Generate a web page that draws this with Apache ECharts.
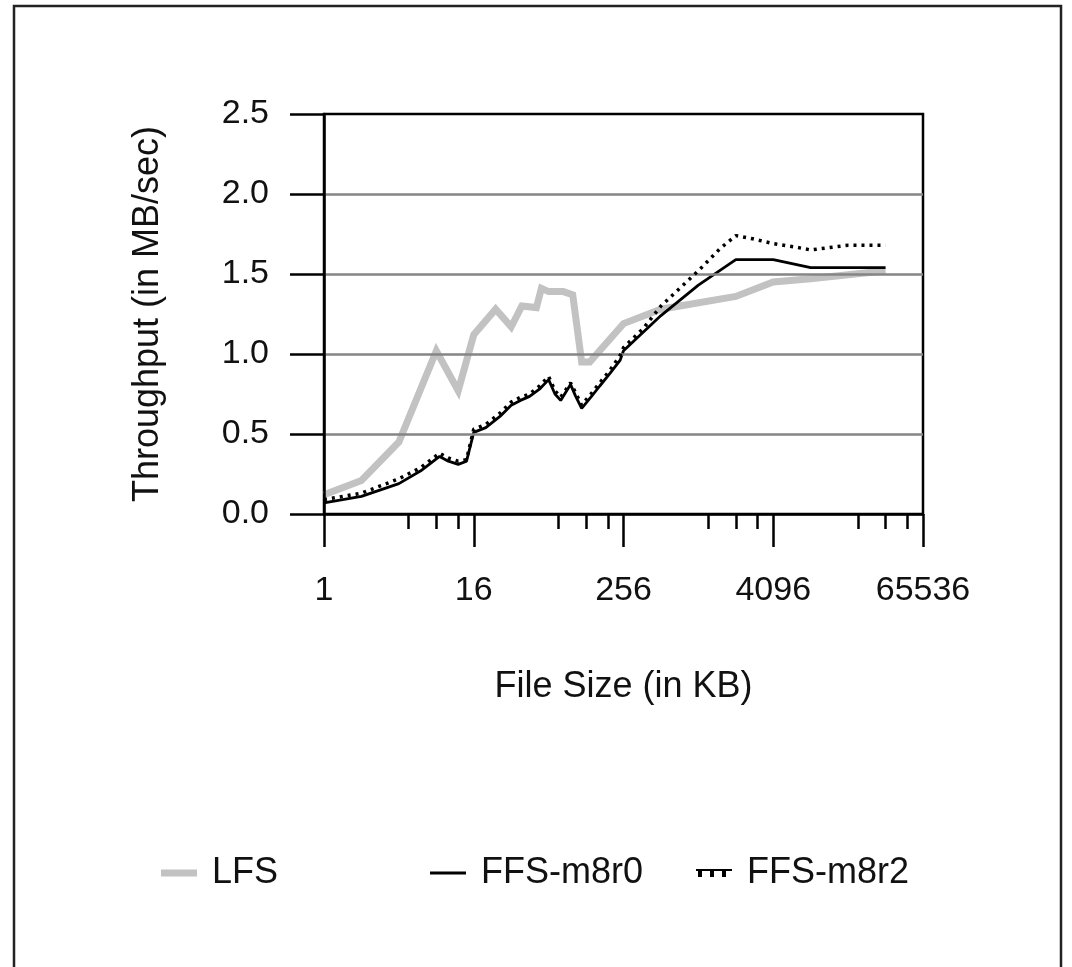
<!DOCTYPE html>
<html>
<head>
<meta charset="utf-8">
<script src="https://cdn.jsdelivr.net/npm/echarts@6/dist/echarts.min.js"></script>
<style>
html,body{margin:0;padding:0;background:#fff;}
#chart{width:1072px;height:967px;}
</style>
</head>
<body>
<div id="chart"></div>
<script>
// ---- data (file size in KB, throughput in MB/sec) ----
var xTickValues = [1, 16, 256, 4096, 65536];
var xMinorTickValues = [4.8, 8, 12, 77, 128, 192, 1229, 2048, 3072, 19661, 32768, 49152];
var yTickValues = [0, 0.5, 1.0, 1.5, 2.0, 2.5];

var lfsSize = [1, 2, 4, 8, 12, 16, 24, 32, 39, 51, 56, 64, 84, 100, 118, 137, 256, 512, 2048, 4096, 8192, 32768];
var lfsThroughput = [0.12, 0.21, 0.45, 1.02, 0.77, 1.12, 1.28, 1.17, 1.30, 1.29, 1.41, 1.39, 1.39, 1.37, 0.95, 0.95, 1.19, 1.28, 1.36, 1.45, 1.47, 1.52];

var m8r0Size = [1, 2, 4, 6, 8.5, 10, 12, 14, 16, 20, 26, 32, 38, 45, 54, 64, 72, 80, 96, 105, 118, 140, 165, 200, 240, 256, 512, 1024, 2048, 4096, 8192, 32768];
var m8r0Throughput = [0.07, 0.11, 0.19, 0.27, 0.36, 0.33, 0.31, 0.33, 0.51, 0.54, 0.61, 0.68, 0.71, 0.735, 0.78, 0.84, 0.75, 0.71, 0.81, 0.74, 0.66, 0.73, 0.80, 0.88, 0.96, 1.02, 1.24, 1.43, 1.59, 1.59, 1.54, 1.54];

var m8r2Size = [1, 2, 4, 6, 8.5, 10, 12, 14, 16, 20, 26, 32, 38, 45, 54, 64, 72, 80, 96, 105, 118, 140, 165, 200, 240, 256, 370, 512, 1024, 1536, 2048, 2800, 4096, 6000, 8192, 16384, 32768];
var m8r2Throughput = [0.09, 0.13, 0.22, 0.29, 0.38, 0.35, 0.33, 0.34, 0.53, 0.56, 0.63, 0.70, 0.73, 0.75, 0.80, 0.86, 0.77, 0.73, 0.82, 0.76, 0.68, 0.75, 0.82, 0.90, 0.99, 1.04, 1.16, 1.30, 1.52, 1.66, 1.74, 1.72, 1.69, 1.67, 1.65, 1.68, 1.68];

function pairs(xs, ys) { return xs.map(function (x, i) { return [x, ys[i]]; }); }

var FONT = '"Liberation Sans", Arial, Helvetica, sans-serif';
var chart = echarts.init(document.getElementById('chart'), null, {renderer: 'canvas'});

var legendText = {fontSize: 36, fontFamily: FONT, color: '#111', padding: [0, 0, 0, 10]};
var dottedIcon = 'path://M0,0H36V2H0Z M2,0H6V8H2Z M14,0H18V8H14Z M26,0H30V8H26Z';

var option = {
  backgroundColor: '#ffffff',
  animation: false,
  textStyle: {fontFamily: FONT, color: '#111'},
  graphic: [{
    type: 'rect', silent: true, z: 100,
    shape: {x: 14, y: 6, width: 1047, height: 1000},
    style: {fill: 'none', stroke: '#222', lineWidth: 2.5}
  }],
  grid: {
    left: 324, right: 149, top: 114, bottom: 453,
    show: true, borderColor: '#000', borderWidth: 2.5, backgroundColor: 'transparent'
  },
  legend: [
    {data: [{name: 'LFS', icon: 'rect', itemStyle: {color: '#c2c2c2', borderWidth: 0}}],
     left: 156, top: 850, itemWidth: 36, itemHeight: 7, textStyle: legendText},
    {data: [{name: 'FFS-m8r0', icon: 'rect', itemStyle: {color: '#000', borderWidth: 0}}],
     left: 425, top: 850, itemWidth: 36, itemHeight: 3, textStyle: legendText},
    {data: [{name: 'FFS-m8r2', icon: dottedIcon, itemStyle: {color: '#000', borderWidth: 0}}],
     left: 691, top: 850, itemWidth: 36, itemHeight: 8, symbolKeepAspect: false, textStyle: legendText}
  ],
  xAxis: [
    {
      type: 'log', logBase: 16, min: 1, max: 65536, position: 'bottom', z: 5,
      name: 'File Size (in KB)', nameLocation: 'middle', nameGap: 155,
      nameTextStyle: {fontSize: 36, fontFamily: FONT, color: '#111'},
      axisLine: {show: true, lineStyle: {color: '#000', width: 2.5}},
      axisTick: {show: true, length: 33, customValues: xTickValues, lineStyle: {color: '#000', width: 2.5}},
      axisLabel: {show: true, customValues: xTickValues, fontSize: 34, margin: 60, color: '#111', fontFamily: FONT,
        formatter: function (v) { return String(Math.round(v)); }},
      splitLine: {show: false}, minorTick: {show: false}
    },
    {
      type: 'log', logBase: 16, min: 1, max: 65536, position: 'bottom', z: 5,
      axisLine: {show: false},
      axisTick: {show: true, length: 15, customValues: xMinorTickValues, lineStyle: {color: '#000', width: 2.5}},
      axisLabel: {show: false},
      splitLine: {show: false}
    }
  ],
  yAxis: [
    {
      type: 'value', min: 0, max: 2.5, interval: 0.5, position: 'left', z: 4,
      name: 'Throughput (in MB/sec)', nameLocation: 'middle', nameGap: 158, nameRotate: 90,
      nameTextStyle: {fontSize: 36, fontFamily: FONT, color: '#111'},
      axisLine: {show: true, lineStyle: {color: '#000', width: 2.5}},
      axisTick: {show: true, length: 34, lineStyle: {color: '#000', width: 2.5}},
      axisLabel: {fontSize: 34, margin: 55, color: '#111', fontFamily: FONT, padding: [10, 0, 0, 0],
        formatter: function (v) { return v.toFixed(1); }},
      splitLine: {show: true, showMinLine: false, showMaxLine: false, lineStyle: {color: '#858585', width: 2.5}}
    }
  ],
  series: [
    {
      name: 'LFS', type: 'line', xAxisIndex: 0, yAxisIndex: 0, z: 2,
      data: pairs(lfsSize, lfsThroughput), showSymbol: false, symbol: 'none',
      lineStyle: {color: '#c2c2c2', width: 7, cap: 'butt', join: 'miter'},
      itemStyle: {color: '#c2c2c2'}
    },
    {
      name: 'FFS-m8r0', type: 'line', xAxisIndex: 0, yAxisIndex: 0, z: 3,
      data: pairs(m8r0Size, m8r0Throughput), showSymbol: false, symbol: 'none',
      lineStyle: {color: '#000', width: 2.8},
      itemStyle: {color: '#000'}
    },
    {
      name: 'FFS-m8r2', type: 'line', xAxisIndex: 0, yAxisIndex: 0, z: 4,
      data: pairs(m8r2Size, m8r2Throughput), showSymbol: false, symbol: 'none',
      lineStyle: {color: '#000', width: 3.5, type: [3, 5], cap: 'butt'},
      itemStyle: {color: '#000'}
    }
  ]
};
chart.setOption(option);
</script>
</body>
</html>
